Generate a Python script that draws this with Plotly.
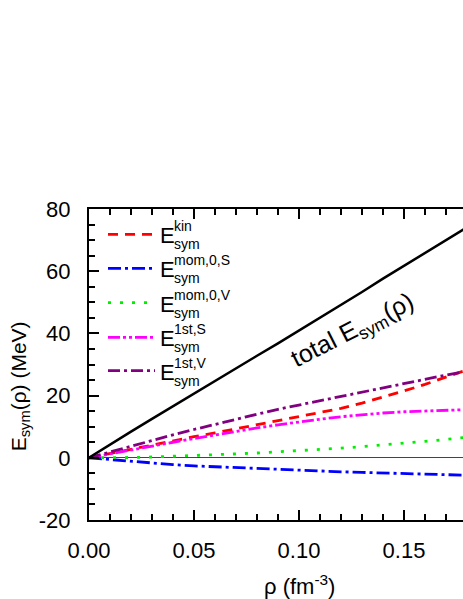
import plotly.graph_objects as go

rho = [0.00, 0.01, 0.02, 0.03, 0.04, 0.05, 0.06, 0.07, 0.08, 0.09,
       0.10, 0.11, 0.12, 0.13, 0.14, 0.15, 0.16, 0.17, 0.18]
e_total = [0.0, 4.3, 8.4, 12.5, 16.6, 20.7, 24.8, 28.8, 32.8, 36.8,
           40.9, 45.0, 49.1, 53.3, 57.6, 61.7, 65.9, 70.0, 74.1]
e_kin = [0.0, 1.4, 2.8, 4.1, 5.4, 6.8, 8.0, 9.3, 10.6, 12.1,
         13.3, 14.5, 15.9, 17.6, 19.5, 21.5, 23.6, 25.9, 28.3]
e_mom0S = [0.0, -0.6, -1.2, -1.7, -2.2, -2.6, -2.9, -3.2, -3.5, -3.75,
           -4.0, -4.25, -4.5, -4.7, -4.9, -5.1, -5.3, -5.45, -5.6]
e_mom0V = [0.0, 0.0, 0.1, 0.25, 0.45, 0.7, 0.95, 1.25, 1.55, 1.9,
           2.3, 2.7, 3.1, 3.6, 4.1, 4.7, 5.3, 5.9, 6.6]
e_1stS = [0.0, 1.3, 2.5, 3.8, 5.0, 6.2, 7.4, 8.5, 9.6, 10.6,
          11.6, 12.4, 13.2, 13.9, 14.4, 14.8, 15.1, 15.3, 15.5]
e_1stV = [0.0, 1.9, 3.8, 5.6, 7.4, 9.1, 10.8, 12.4, 14.0, 15.6,
          17.0, 18.4, 19.8, 21.2, 22.6, 24.0, 25.3, 26.6, 27.9]

y_tickvals = [-20, 0, 20, 40, 60, 80]
y_ticktext = ["-20", "0", "20", "40", "60", "80"]
labels_sup = ["kin", "mom,0,S", "mom,0,V", "1st,S", "1st,V"]
FONT = "Liberation Sans, Arial, sans-serif"

series = [
    (e_kin, "#ff0000", "10px,7px"),
    (e_mom0S, "#0000ff", "13px,4px,3px,4px"),
    (e_mom0V, "#00ee00", "3px,9px"),
    (e_1stS, "#ff00ff", "12px,3px,3px,3px,3px,3px"),
    (e_1stV, "#800080", "12px,4px,3px,4px"),
]

W, H = 463, 599
L, R, T, B = 89, 0, 209, 79
pw = W - L - R
ph = H - T - B

fig = go.Figure()
for (vals, col, dash), lab in zip(series, labels_sup):
    fig.add_trace(go.Scatter(x=rho, y=vals, mode="lines",
                             line=dict(color=col, width=2.8, dash=dash),
                             showlegend=False, name=lab))
fig.add_trace(go.Scatter(x=rho, y=e_total, mode="lines",
                         line=dict(color="black", width=2.5),
                         showlegend=False, name="total"))

def px_x(p):
    return (p - L) / pw

def px_y(p):
    return (T + ph - p) / ph

shapes = []
annotations = []
rows = [234.3, 268.3, 302.7, 337.3, 370.7]
for (vals, col, dash), lab, ry in zip(series, labels_sup, rows):
    shapes.append(dict(type="line", xref="paper", yref="paper",
                       x0=px_x(108), x1=px_x(155), y0=px_y(ry), y1=px_y(ry),
                       line=dict(color=col, width=2.8, dash=dash)))
    annotations.append(dict(xref="paper", yref="paper", x=px_x(158), y=px_y(ry + 1.5),
                            xanchor="left", yanchor="middle", showarrow=False,
                            text="E", font=dict(family=FONT, size=22, color="black")))
    annotations.append(dict(xref="paper", yref="paper", x=px_x(172), y=px_y(ry - 8),
                            xanchor="left", yanchor="middle", showarrow=False,
                            text=lab, font=dict(family=FONT, size=14, color="black")))
    annotations.append(dict(xref="paper", yref="paper", x=px_x(172), y=px_y(ry + 10),
                            xanchor="left", yanchor="middle", showarrow=False,
                            text="sym", font=dict(family=FONT, size=14, color="black")))

annotations.append(dict(xref="paper", yref="paper", x=px_x(353), y=px_y(331),
                        xanchor="center", yanchor="middle", showarrow=False,
                        textangle=-27,
                        text="total E<sub>sym</sub>(ρ)",
                        font=dict(family=FONT, size=25, color="black")))
annotations.append(dict(xref="x", yref="paper", x=0.1, y=px_y(585),
                        xanchor="center", yanchor="middle", showarrow=False,
                        text="ρ (fm<sup>-3</sup>)",
                        font=dict(family=FONT, size=22, color="black")))
annotations.append(dict(xref="paper", yref="y", x=px_x(20), y=23,
                        xanchor="center", yanchor="middle", showarrow=False,
                        textangle=-90,
                        text="E<sub>sym</sub>(ρ) (MeV)",
                        font=dict(family=FONT, size=21, color="black")))

fig.update_layout(
    width=W, height=H,
    margin=dict(l=L, r=R, t=T, b=B),
    paper_bgcolor="white", plot_bgcolor="white",
    font=dict(family=FONT, size=22, color="black"),
    shapes=shapes, annotations=annotations,
    showlegend=False,
)
fig.update_xaxes(
    range=[0, (W - L) / 2100.0], dtick=0.05, tick0=0, tickformat=".2f",
    ticks="inside", ticklen=10, tickwidth=1.5, tickcolor="black",
    showline=True, linecolor="black", linewidth=2, mirror="ticks",
    showgrid=False, zeroline=False,
    tickfont=dict(family=FONT, size=22, color="black"),
    ticklabelstandoff=10,
    minor=dict(dtick=0.01, ticks="inside", ticklen=6, tickwidth=1.5, tickcolor="black", showgrid=False),
)
fig.update_yaxes(
    range=[-20, 80], tickmode="array", tickvals=y_tickvals, ticktext=y_ticktext,
    ticks="inside", ticklen=10, tickwidth=1.5, tickcolor="black",
    showline=True, linecolor="black", linewidth=2, mirror=False,
    showgrid=False, zeroline=True, zerolinecolor="#444444", zerolinewidth=1,
    tickfont=dict(family=FONT, size=22, color="black"),
    ticklabelstandoff=12,
    minor=dict(dtick=5, tick0=0, ticks="inside", ticklen=6, tickwidth=1.5, tickcolor="black", showgrid=False),
)

fig.write_html("out.html", config={"displayModeBar": False})

with open("out.html", "r", encoding="utf-8") as f:
    html = f.read()
html = html.replace("<head>", "<head><style>html,body{margin:0;padding:0;overflow:hidden;}</style>", 1)
with open("out.html", "w", encoding="utf-8") as f:
    f.write(html)
